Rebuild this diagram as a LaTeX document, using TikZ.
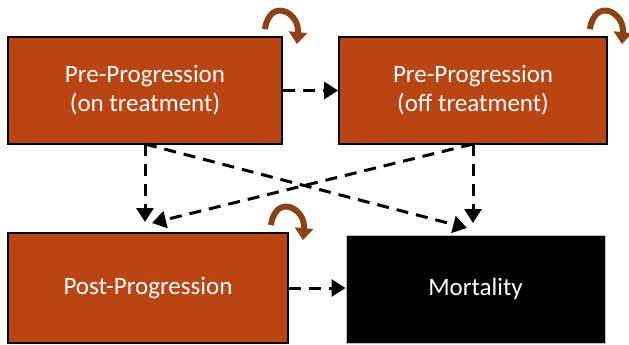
\documentclass[tikz,border=0pt]{standalone}
\usepackage{fontspec}
\setmainfont{Carlito}
\usetikzlibrary{arrows.meta,calc}
\definecolor{boxorange}{RGB}{184,69,18}
\definecolor{loopbrown}{RGB}{140,66,20}
\definecolor{mortborder}{RGB}{190,190,190}
\tikzset{
  statebox/.style={draw=black,line width=1.8bp,fill=boxorange,text=white,
    font=\fontsize{25bp}{29bp}\selectfont,align=center,inner sep=0pt},
  deadbox/.style={draw=mortborder,line width=1bp,fill=black,text=white,
    font=\fontsize{25bp}{29bp}\selectfont,align=center,inner sep=0pt},
  trans/.style={draw=black,line width=3bp,dash pattern=on 12bp off 8bp,
    -{Triangle[length=14bp,width=17bp]}},
  selfloop/.style={draw=loopbrown,line width=6bp,
    -{Triangle[length=12bp,width=18bp]}}
}
\begin{document}
\begin{tikzpicture}[x=1bp,y=-1bp]
\useasboundingbox (0,0) rectangle (629,344);
\node[statebox,minimum width=274bp,minimum height=107bp] (b1) at (145,90.5)
  {Pre-Progression\\(on treatment)};
\node[statebox,minimum width=268bp,minimum height=107bp] (b2) at (473,90.5)
  {Pre-Progression\\(off treatment)};
\node[statebox,minimum width=280bp,minimum height=110bp] (post) at (148,288)
  {Post-Progression};
\node[deadbox,minimum width=259bp,minimum height=108bp] (mort) at (475.5,289)
  {Mortality};
\coordinate (b1s) at (145,144);
\coordinate (b2s) at (473,144);
\coordinate (tpv) at (145,222);
\coordinate (tpd) at (152,223);
\coordinate (tmv) at (473,223);
\coordinate (tmd) at (467,228);
\draw[trans] (b1.east) -- (b2.west);
\draw[trans] (post.east |- 0,288) -- (mort.west |- 0,288);
\draw[trans] (b1s) -- (tpv);
\draw[trans] (b1s) -- (tmd);
\draw[trans] (b2s) -- (tmv);
\draw[trans] (b2s) -- (tpd);
\foreach \n in {b1,b2,post}{
  \draw[selfloop] ($(\n.north east)+(-18,-7)$) .. controls +(5,-32) and +(3,-32) .. ($(\n.north east)+(14,8)$);
}
\end{tikzpicture}
\end{document}
